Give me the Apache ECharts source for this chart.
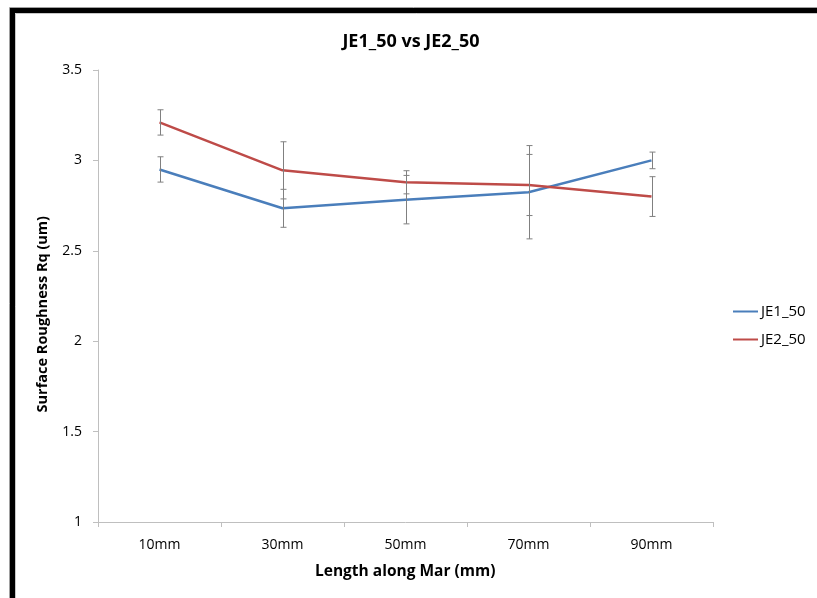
<!DOCTYPE html>
<html>
<head>
<meta charset="utf-8">
<script src="https://cdn.jsdelivr.net/npm/echarts@6/dist/echarts.min.js"></script>
<style>
  html, body { margin: 0; padding: 0; background: #fff; }
  #chart { width: 817px; height: 598px; }
</style>
</head>
<body>
<div id="chart"></div>
<script>
// Positions along the mar
const categories = ['10mm', '30mm', '50mm', '70mm', '90mm'];

// Mean Rq per position and its error (±)
const je1Values = [2.95, 2.735, 2.783, 2.824, 3.0];
const je1Errors = [0.07, 0.105, 0.134, 0.258, 0.046];
const je2Values = [3.21, 2.945, 2.879, 2.864, 2.80];
const je2Errors = [0.07, 0.158, 0.064, 0.169, 0.11];

const seriesNames = ['JE1_50', 'JE2_50'];
const colors = ['#4A7EBB', '#BE4B48'];
const fontFamily = '"Open Sans", "Liberation Sans", sans-serif';

// [categoryIndex, low, high] rows for the error bars
function errorRows(values, errors) {
  return values.map((v, i) => [i, v - errors[i], v + errors[i]]);
}

function renderErrorBar(params, api) {
  const lowPt = api.coord([api.value(0), api.value(1)]);
  const highPt = api.coord([api.value(0), api.value(2)]);
  const half = 3;
  const style = { stroke: '#808080', lineWidth: 1 };
  const x = Math.round(lowPt[0]) + 0.5;
  return {
    type: 'group',
    children: [
      { type: 'line', shape: { x1: x, y1: highPt[1], x2: x, y2: lowPt[1] }, style },
      { type: 'line', shape: { x1: x - half, y1: highPt[1], x2: x + half, y2: highPt[1] }, style },
      { type: 'line', shape: { x1: x - half, y1: lowPt[1], x2: x + half, y2: lowPt[1] }, style }
    ]
  };
}

const chart = echarts.init(document.getElementById('chart'), null, { renderer: 'canvas' });

chart.setOption({
  backgroundColor: '#ffffff',
  animation: false,
  title: {
    text: 'JE1_50 vs JE2_50',
    left: 406,
    top: 28,
    textAlign: 'center',
    textStyle: { fontFamily, fontSize: 18, fontWeight: 'bold', color: '#000' }
  },
  legend: {
    orient: 'vertical',
    left: 728,
    top: 299,
    itemWidth: 25,
    itemHeight: 2,
    itemGap: 13,
    icon: 'rect',
    data: seriesNames,
    textStyle: { fontFamily, fontSize: 15, color: '#000', padding: [0, 0, 0, -2] }
  },
  grid: { left: 98, right: 104, top: 70, bottom: 76 },
  xAxis: {
    type: 'category',
    data: categories,
    boundaryGap: true,
    axisLine: { lineStyle: { color: '#BFBFBF', width: 1 } },
    axisTick: { show: true, length: 5, lineStyle: { color: '#BFBFBF' } },
    axisLabel: { fontFamily, fontSize: 14, color: '#000', margin: 16 },
    splitLine: { show: false }
  },
  yAxis: {
    type: 'value',
    min: 1,
    max: 3.5,
    interval: 0.5,
    axisLine: { show: true, lineStyle: { color: '#BFBFBF', width: 1 } },
    axisTick: { show: true, length: 5, lineStyle: { color: '#BFBFBF' } },
    axisLabel: { fontFamily, fontSize: 14, color: '#000', margin: 16 },
    splitLine: { show: false }
  },
  graphic: [
    // frame around the chart (top and left edges visible)
    { type: 'rect', silent: true, z: 100, shape: { x: 12.5, y: 10.5, width: 900, height: 700 },
      style: { fill: 'none', stroke: '#000', lineWidth: 5 } },
    { type: 'rect', silent: true, z: 100, shape: { x: 9.5, y: 7.5, width: 900, height: 700 },
      style: { fill: 'none', stroke: '#A0A0A0', lineWidth: 1 } },
    { type: 'rect', silent: true, z: 100, shape: { x: 15.5, y: 13.5, width: 900, height: 700 },
      style: { fill: 'none', stroke: '#C8C8C8', lineWidth: 1 } },
    {
      type: 'text', left: 35, top: 216, rotation: Math.PI / 2,
      style: { text: 'Surface Roughness Rq (um)', font: 'bold 14.5px ' + fontFamily, fill: '#000' }
    },
    {
      type: 'text', left: 315, top: 564,
      style: { text: 'Length along Mar (mm)', font: 'bold 15.5px ' + fontFamily, fill: '#000' }
    }
  ],
  series: [
    {
      name: seriesNames[0], type: 'line', data: je1Values, showSymbol: false,
      lineStyle: { color: colors[0], width: 2.5 }, itemStyle: { color: colors[0] }, z: 3
    },
    {
      name: seriesNames[1], type: 'line', data: je2Values, showSymbol: false,
      lineStyle: { color: colors[1], width: 2.5 }, itemStyle: { color: colors[1] }, z: 3
    },
    {
      type: 'custom', renderItem: renderErrorBar, data: errorRows(je1Values, je1Errors),
      encode: { x: 0, y: [1, 2] }, z: 4, silent: true
    },
    {
      type: 'custom', renderItem: renderErrorBar, data: errorRows(je2Values, je2Errors),
      encode: { x: 0, y: [1, 2] }, z: 4, silent: true
    }
  ]
});
</script>
</body>
</html>
